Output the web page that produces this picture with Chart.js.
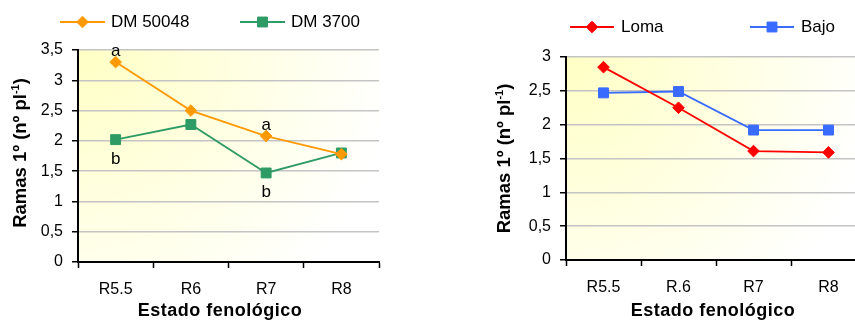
<!DOCTYPE html>
<html>
<head>
<meta charset="utf-8">
<script src="https://cdn.jsdelivr.net/npm/chart.js@4.4.1/dist/chart.umd.min.js"></script>
<style>
  html, body { margin: 0; padding: 0; background: #fff; overflow: hidden; width: 855px; height: 322px; }
  #left { position: absolute; left: 0; top: 0; }
  #right { position: absolute; left: 430px; top: 0; }
</style>
</head>
<body>
<canvas id="left" width="430" height="322"></canvas>
<canvas id="right" width="450" height="322"></canvas>
<script>
// data
const stagesLeft = ['R5.5', 'R6', 'R7', 'R8'];
const stagesRight = ['R5.5', 'R.6', 'R7', 'R8'];
const dm50048 = [3.3, 2.5, 2.08, 1.78];
const dm3700 = [2.02, 2.27, 1.47, 1.8];
const loma = [2.85, 2.25, 1.61, 1.59];
const bajo = [2.47, 2.49, 1.92, 1.92];
const lettersDM50048 = ['a', '', 'a', ''];
const lettersDM3700 = ['b', '', 'b', ''];
const yMaxLeft = 3.5;
const yMaxRight = 3;
const yStep = 0.5;
const yTitleParts = ['Ramas 1º (nº pl', '-1', ')'];
const xTitle = 'Estado fenológico';

const FONT = '"Liberation Sans", Arial, sans-serif';

// yellow corner fill behind the plot
const bgPlugin = {
  id: 'bgFill',
  beforeDraw(chart) {
    const { ctx, chartArea: a } = chart;
    const g = ctx.createRadialGradient(a.left, a.top, 0, a.left, a.top, a.width * 1.05);
    g.addColorStop(0, '#FFFFC4');
    g.addColorStop(1, '#FFFFFF');
    ctx.save();
    ctx.fillStyle = g;
    ctx.fillRect(a.left, a.top, a.width, a.height);
    ctx.restore();
  }
};

// excel style legend: line with marker, then label
const lineLegend = {
  id: 'lineLegend',
  afterDraw(chart, args, opts) {
    const ctx = chart.ctx;
    ctx.save();
    chart.data.datasets.forEach((ds, i) => {
      const x = opts.xs[i];
      ctx.strokeStyle = ds.borderColor;
      ctx.lineWidth = ds.borderWidth;
      ctx.beginPath();
      ctx.moveTo(x, opts.y);
      ctx.lineTo(x + opts.lineLength, opts.y);
      ctx.stroke();
      ctx.fillStyle = ds.pointBackgroundColor;
      ctx.lineWidth = 1;
      Chart.helpers.drawPoint(ctx, { pointStyle: ds.pointStyle, radius: ds.pointRadius, borderWidth: 1 },
        x + opts.lineLength / 2, opts.y);
      ctx.fillStyle = '#000';
      ctx.font = '17px ' + FONT;
      ctx.textBaseline = 'middle';
      ctx.textAlign = 'left';
      ctx.fillText(ds.label, x + opts.lineLength + opts.gap, opts.y);
    });
    ctx.restore();
  }
};

// axis titles, y one has a superscript
const axisTitles = {
  id: 'axisTitles',
  afterDraw(chart, args, opts) {
    const { ctx, chartArea: a } = chart;
    ctx.save();
    ctx.fillStyle = '#000';
    ctx.textBaseline = 'alphabetic';
    ctx.textAlign = 'left';
    const big = 'bold 18.5px ' + FONT;
    const small = 'bold 11px ' + FONT;
    ctx.font = big;
    const w0 = ctx.measureText(yTitleParts[0]).width;
    const w2 = ctx.measureText(yTitleParts[2]).width;
    ctx.font = small;
    const w1 = ctx.measureText(yTitleParts[1]).width;
    const total = w0 + w1 + w2;
    ctx.translate(opts.yx, (a.top + a.bottom) / 2 + opts.ydy);
    ctx.rotate(-Math.PI / 2);
    let x = -total / 2;
    ctx.font = big;
    ctx.fillText(yTitleParts[0], x, 0);
    x += w0;
    ctx.font = small;
    ctx.fillText(yTitleParts[1], x, -7);
    x += w1;
    ctx.font = big;
    ctx.fillText(yTitleParts[2], x, 0);
    ctx.restore();

    ctx.save();
    ctx.fillStyle = '#000';
    ctx.font = 'bold 18px ' + FONT;
    ctx.letterSpacing = '0.5px';
    ctx.textAlign = 'center';
    ctx.textBaseline = 'alphabetic';
    ctx.fillText(xTitle, opts.xx, opts.xy);
    ctx.restore();
  }
};

// significance letters next to points
const letterLabels = {
  id: 'letterLabels',
  afterDatasetsDraw(chart, args, opts) {
    if (!opts.sets) return;
    const ctx = chart.ctx;
    ctx.save();
    ctx.fillStyle = '#000';
    ctx.font = '17px ' + FONT;
    ctx.textAlign = 'center';
    opts.sets.forEach(s => {
      const meta = chart.getDatasetMeta(s.dataset);
      s.letters.forEach((l, i) => {
        if (!l) return;
        const p = meta.data[i];
        if (s.above) {
          ctx.textBaseline = 'alphabetic';
          ctx.fillText(l, p.x, p.y - 6);
        } else {
          ctx.textBaseline = 'top';
          ctx.fillText(l, p.x, p.y + 11);
        }
      });
    });
    ctx.restore();
  }
};

function series(label, data, color, style, radius) {
  return {
    label: label,
    data: data,
    borderColor: color,
    backgroundColor: color,
    pointBackgroundColor: color,
    pointBorderColor: color,
    borderWidth: 1.8,
    pointBorderWidth: 1,
    pointStyle: style,
    pointRadius: radius,
    pointHoverRadius: radius,
    tension: 0,
    clip: false
  };
}

function makeOptions(cfg) {
  return {
    responsive: false,
    animation: false,
    events: [],
    layout: { padding: { top: cfg.top, right: cfg.right, left: 0, bottom: 0 } },
    scales: {
      x: {
        offset: true,
        grid: { offset: true, drawOnChartArea: false, tickLength: 6, tickColor: '#000', tickWidth: 1.5 },
        border: { color: '#000', width: 2 },
        ticks: { color: '#000', font: { family: FONT, size: 16 }, padding: 12, maxRotation: 0 },
        afterFit(s) { s.height = cfg.xHeight; }
      },
      y: {
        min: 0,
        max: cfg.yMax,
        grid: { color: '#C4C4C4', lineWidth: 1.5, tickLength: 6, tickColor: '#000', tickWidth: 1.5 },
        border: { color: '#000', width: 2 },
        ticks: {
          stepSize: yStep,
          color: '#000',
          font: { family: FONT, size: 16 },
          padding: 9,
          callback: v => String(v).replace('.', ',')
        },
        afterFit(s) { s.width = cfg.yWidth; }
      }
    },
    plugins: {
      legend: { display: false },
      tooltip: { enabled: false },
      lineLegend: cfg.legend,
      axisTitles: cfg.titles,
      letterLabels: { sets: cfg.letters }
    }
  };
}

new Chart(document.getElementById('left'), {
  type: 'line',
  data: {
    labels: stagesLeft,
    datasets: [
      series('DM 50048', dm50048, '#FF9900', 'rectRot', 5.8),
      series('DM 3700', dm3700, '#2E9A64', 'rect', 7)
    ]
  },
  options: makeOptions({
    top: 50, right: 51, xHeight: 60, yWidth: 78, yMax: yMaxLeft,
    legend: { xs: [60, 240], y: 22, lineLength: 45, gap: 6 },
    titles: { yx: 26, ydy: -3, xx: 220, xy: 316 },
    letters: [
      { dataset: 0, letters: lettersDM50048, above: true },
      { dataset: 1, letters: lettersDM3700, above: false }
    ]
  }),
  plugins: [bgPlugin, lineLegend, axisTitles, letterLabels]
});

new Chart(document.getElementById('right'), {
  type: 'line',
  data: {
    labels: stagesRight,
    datasets: [
      series('Loma', loma, '#FF0000', 'rectRot', 5.8),
      series('Bajo', bajo, '#3A6BFF', 'rect', 7)
    ]
  },
  options: makeOptions({
    top: 57, right: 14, xHeight: 62, yWidth: 136, yMax: yMaxRight,
    legend: { xs: [140, 320], y: 27, lineLength: 44, gap: 7 },
    titles: { yx: 80, ydy: 0, xx: 283, xy: 316 },
    letters: null
  }),
  plugins: [bgPlugin, lineLegend, axisTitles, letterLabels]
});
</script>
</body>
</html>
